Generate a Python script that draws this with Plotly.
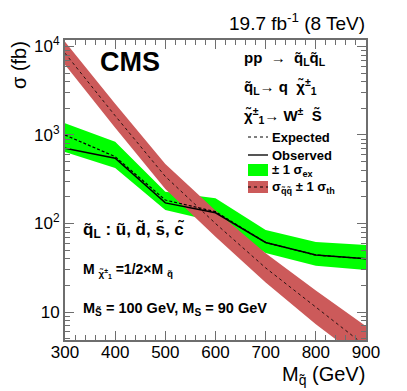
import plotly.graph_objects as go

# ---- data ----
mass = [300, 400, 500, 600, 700, 800, 900]
observed = [708, 546, 171, 132, 61, 44, 40]
expected = [1000, 569, 184, 136, 61, 44, 40]
exp_up = [1356, 840, 229, 193, 84.5, 62, 57]
exp_down = [643, 424, 142, 105, 46.4, 33.3, 29.8]
theory = [8400, 1650, 340, 100, 31.5, 11.3, 4.1]
theory_up = [11300, 2250, 470, 140, 46, 17.5, 6.9]
theory_down = [6200, 1210, 245, 71, 21.5, 7.3, 2.7]

y_tickvals = [10, 100, 1000, 10000]
y_ticktext = ["10", "10<sup>2</sup>", "10<sup>3</sup>", "10<sup>4</sup>"]
x_tickvals = [300, 400, 500, 600, 700, 800, 900]

GREEN = "#00FF00"
RED = "#CC5A5A"
FONT = "Liberation Sans, Arial, Helvetica, sans-serif"
AXC = "#6E6E6E"

fig = go.Figure()

# expected +-1 sigma band
fig.add_trace(go.Scatter(x=mass, y=exp_up, mode="lines", line=dict(width=0, color=GREEN),
                         showlegend=False, hoverinfo="skip"))
fig.add_trace(go.Scatter(x=mass, y=exp_down, mode="lines", line=dict(width=0, color=GREEN),
                         fill="tonexty", fillcolor=GREEN, showlegend=False, hoverinfo="skip"))
# theory band
fig.add_trace(go.Scatter(x=mass, y=theory_up, mode="lines", line=dict(width=0, color=RED),
                         showlegend=False, hoverinfo="skip"))
fig.add_trace(go.Scatter(x=mass, y=theory_down, mode="lines", line=dict(width=0, color=RED),
                         fill="tonexty", fillcolor=RED, showlegend=False, hoverinfo="skip"))
# lines
fig.add_trace(go.Scatter(x=mass, y=expected, mode="lines",
                         line=dict(color="black", width=1.2, dash="3px,2px"), showlegend=False))
fig.add_trace(go.Scatter(x=mass, y=observed, mode="lines",
                         line=dict(color="black", width=1.5), showlegend=False))
fig.add_trace(go.Scatter(x=mass, y=theory, mode="lines",
                         line=dict(color="black", width=0.8, dash="dot"), showlegend=False))

# page offset from the default body margin of the html page
OFF = 8
W, H = 407 - OFF, 391 - OFF
L, T, PW, PH = 65, 40, 301, 300   # plot area in page pixels


def px(x):
    return (x - L) / PW


def py(y):
    return (T + PH - y) / PH


shapes = [
    dict(type="line", xref="paper", yref="paper", x0=px(248), x1=px(268), y0=py(137), y1=py(137),
         line=dict(color="black", width=1, dash="dot")),
    dict(type="line", xref="paper", yref="paper", x0=px(248), x1=px(268), y0=py(155), y1=py(155),
         line=dict(color="#555555", width=2)),
    dict(type="rect", xref="paper", yref="paper", x0=px(248), x1=px(268), y0=py(176), y1=py(164),
         fillcolor=GREEN, line=dict(width=0)),
    dict(type="rect", xref="paper", yref="paper", x0=px(248), x1=px(268), y0=py(193), y1=py(181),
         fillcolor=RED, line=dict(width=0)),
    dict(type="line", xref="paper", yref="paper", x0=px(248), x1=px(268), y0=py(187), y1=py(187),
         line=dict(color="black", width=1, dash="dot")),
]


def ann(text, x, y, size, xanchor="left", yanchor="middle", bold=False, angle=0):
    return dict(text=("<b>%s</b>" % text) if bold else text, x=px(x), y=py(y), xref="paper", yref="paper",
                xanchor=xanchor, yanchor=yanchor, showarrow=False, textangle=angle,
                font=dict(family=FONT, size=size, color="black"))


annotations = [
    ann("19.7 fb<sup>-1</sup> (8 TeV)", 367, 22, 19, xanchor="right"),
    ann("σ (fb)", 19, 65, 20, xanchor="center", angle=-90),
    ann("CMS", 98, 62, 27, bold=True),
    ann("pp  →  q̃<sub>L</sub>q̃<sub>L</sub>", 242, 58, 15, bold=True),
    ann("q̃<sub>L</sub>→ q  χ̃<sup>±</sup><sub>1</sub>", 242, 87, 15, bold=True),
    ann("χ̃<sup>±</sup><sub>1</sub>→ W<sup>±</sup>  S̃", 242, 116, 15, bold=True),
    ann("Expected", 270, 137, 13, bold=True),
    ann("Observed", 270, 155, 13, bold=True),
    ann("± 1 σ<sub>ex</sub>", 270, 170, 13, bold=True),
    ann("σ<sub>q̃q̃</sub> ± 1 σ<sub>th</sub>", 270, 187, 13, bold=True),
    ann("q̃<sub>L</sub> : ũ, d̃, s̃, c̃", 81, 230, 17, bold=True),
    ann("M <sub>χ̃<sup>±</sup><sub>1</sub></sub> =1/2×M <sub>q̃</sub>", 81, 270, 14, bold=True),
    ann("M<sub>S̃</sub> = 100 GeV, M<sub>S</sub> = 90 GeV", 81, 309, 14.5, bold=True),
    ann("M<sub>q̃</sub> (GeV)", 367, 361, 20, xanchor="right", yanchor="top"),
]

minor_y = [m * 10 ** e for e in range(0, 5) for m in range(2, 10)]

fig.update_layout(
    width=W, height=H,
    margin=dict(l=L - OFF, r=W - (L - OFF) - PW, t=T - OFF, b=H - (T - OFF) - PH, pad=0),
    paper_bgcolor="white", plot_bgcolor="white",
    showlegend=False,
    shapes=shapes, annotations=annotations,
    font=dict(family=FONT, size=17, color="black"),
)
fig.update_xaxes(range=[300, 900], tickmode="array", tickvals=x_tickvals,
                 ticks="inside", ticklen=9, tickwidth=1, tickcolor=AXC,
                 showline=True, linecolor=AXC, linewidth=2, mirror="ticks",
                 showgrid=False, zeroline=False, ticklabelstandoff=-4,
                 tickfont=dict(family=FONT, size=17),
                 minor=dict(tickmode="linear", tick0=300, dtick=20, ticks="inside", ticklen=5,
                            tickcolor=AXC, showgrid=False))
fig.update_yaxes(type="log", range=[0.684, 4.073], tickmode="array", tickvals=y_tickvals,
                 ticktext=y_ticktext, ticks="inside", ticklen=9, tickwidth=1, tickcolor=AXC,
                 showline=True, linecolor=AXC, linewidth=2, mirror="ticks",
                 showgrid=False, zeroline=False,
                 tickfont=dict(family=FONT, size=17),
                 minor=dict(tickmode="array", tickvals=minor_y, ticks="inside", ticklen=5,
                            tickcolor=AXC, showgrid=False))

fig.write_html("out.html")
